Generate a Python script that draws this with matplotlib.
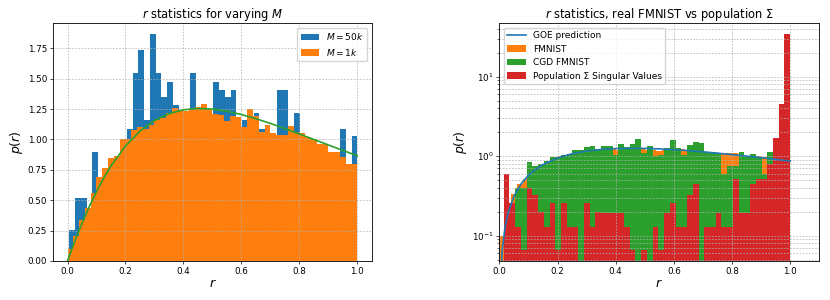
import matplotlib
matplotlib.use("Agg")
import matplotlib.pyplot as plt
import numpy as np

# ---- data ----
# left panel: 50-bin densities
m50k_range = (0.006, 1.0)
m50k = [0.253, 0.515, 0.515, 0.40, 0.900, 0.58, 0.66, 0.72, 0.78, 0.88,
        1.090, 1.545, 1.737, 1.160, 1.864, 1.545, 1.350, 1.476, 1.283, 1.12,
        1.10, 1.545, 1.12, 1.15, 1.10, 1.476, 1.410, 1.350, 1.410, 1.10,
        1.157, 1.10, 1.218, 1.088, 0.98, 0.94, 1.410, 1.410, 0.98, 1.218,
        0.94, 0.90, 0.88, 0.85, 0.82, 0.78, 0.78, 1.088, 0.72, 1.025]

m1k_range = (0.0, 1.0)
m1k = [0.097, 0.207, 0.336, 0.438, 0.556, 0.694, 0.769, 0.846, 0.862, 1.005,
       1.005, 1.080, 1.100, 1.090, 1.120, 1.160, 1.180, 1.220, 1.260, 1.245,
       1.230, 1.250, 1.270, 1.295, 1.250, 1.210, 1.200, 1.150, 1.190, 1.185,
       1.100, 1.250, 1.190, 1.065, 1.120, 1.050, 1.040, 1.040, 1.110, 1.060,
       1.055, 1.020, 1.005, 0.965, 0.965, 0.900, 0.900, 0.855, 0.800, 0.800]

# right panel
fmnist_range = (0.0, 1.0)
fmnist = [0.10, 0.22, 0.336, 0.45, 0.52, 0.62, 0.72, 0.75, 0.80, 0.95,
          1.00, 0.97, 1.05, 1.10, 1.12, 1.15, 1.15, 1.20, 1.20, 1.26,
          1.20, 1.25, 1.25, 1.20, 1.23, 1.20, 1.20, 1.15, 1.20, 1.20,
          1.20, 1.23, 1.20, 1.15, 1.15, 1.10, 1.10, 1.05, 1.09, 1.09,
          1.09, 1.05, 1.00, 0.95, 1.00, 0.97, 0.97, 0.90, 0.90, 0.87]

cgd_range = (0.015, 1.0)
cgd_fmnist = [0.25, 0.20, 0.40, 0.40, 0.84, 0.76, 0.80, 0.88, 0.97, 0.97,
              1.02, 1.07, 1.18, 1.18, 1.30, 1.34, 1.24, 1.34, 1.34, 1.04,
              1.40, 1.30, 1.40, 1.65, 1.10, 1.34, 1.00, 1.04, 1.27, 1.60,
              1.27, 1.04, 1.36, 1.50, 1.47, 1.14, 1.14, 1.07, 0.60, 0.75,
              0.75, 1.14, 1.00, 1.07, 0.97, 0.59, 1.14, 1.00, 0.90, 0.85]

pop_range = (0.015, 1.0)
pop_sigma = [0.589, 0.257, 0.128, 0.066, 0.40, 0.32, 0.198, 0.128, 0.257, 0.066,
             0.257, 0.128, 0.128, 0.0, 0.257, 0.128, 0.198, 0.19, 0.19, 0.19,
             0.19, 0.128, 0.066, 0.0, 0.066, 0.0, 0.128, 0.066, 0.19, 0.257,
             0.128, 0.128, 0.32, 0.45, 0.0, 0.128, 0.128, 0.19, 0.128, 0.128,
             0.52, 0.19, 0.19, 0.45, 0.52, 0.52, 0.785, 1.70, 4.50, 34.0]

# GOE prediction curve
goe_r = [0, 0.005, 0.01, 0.02, 0.03, 0.05, 0.075, 0.1, 0.125, 0.15, 0.2, 0.25,
         0.3, 0.35, 0.4, 0.45, 0.5, 0.55, 0.6, 0.65, 0.7, 0.75, 0.8, 0.85,
         0.9, 0.95, 1.0]
goe_p = [0, 0.034, 0.066, 0.131, 0.193, 0.312, 0.448, 0.572, 0.683, 0.782,
         0.946, 1.069, 1.156, 1.212, 1.244, 1.255, 1.250, 1.232, 1.205, 1.171,
         1.132, 1.089, 1.045, 1.000, 0.955, 0.910, 0.866]


def draw_hist(ax, heights, rng, **kw):
    edges = np.linspace(rng[0], rng[1], len(heights) + 1)
    centers = 0.5 * (edges[:-1] + edges[1:])
    ax.hist(centers, bins=edges, weights=heights, **kw)


plt.rcParams.update(
    {
        "font.size": 6.3,
        "axes.linewidth": 0.6,
        "xtick.major.size": 2.2,
        "ytick.major.size": 2.2,
        "ytick.minor.size": 1.3,
        "xtick.major.width": 0.5,
        "ytick.major.width": 0.5,
        "ytick.minor.width": 0.4,
        "xtick.major.pad": 2,
        "ytick.major.pad": 2,
        "legend.fontsize": 6.5,
    }
)
grid_kw = dict(linestyle=(0, (2.5, 2)), linewidth=0.5, color="#b0b0b0")

fig = plt.figure(figsize=(8.3, 3.0), dpi=100)
ax1 = fig.add_axes([0.0639, 0.13, 0.384, 0.793])
ax2 = fig.add_axes([0.6016, 0.13, 0.3855, 0.793])

# left
draw_hist(ax1, m50k, m50k_range, color="C0", label=r"$M = 50k$")
draw_hist(ax1, m1k, m1k_range, color="C1", label=r"$M = 1k$")
ax1.plot(goe_r, goe_p, color="C2", lw=1.2)
ax1.grid(True, **grid_kw)
ax1.legend(loc="upper right")
ax1.set_title(r"$r$ statistics for varying $M$", fontsize=8.3, pad=4)
ax1.set_xlabel(r"$r$", fontsize=9, labelpad=1)
ax1.set_ylabel(r"$p(r)$", fontsize=9, labelpad=2)
ax1.set_yticks([0, 0.25, 0.5, 0.75, 1.0, 1.25, 1.5, 1.75])

# right
ax2.set_yscale("log")
ax2.plot(goe_r, goe_p, color="C0", lw=1.2, zorder=3, label="GOE prediction")
draw_hist(ax2, fmnist, fmnist_range, color="C1", label="FMNIST")
draw_hist(ax2, cgd_fmnist, cgd_range, color="C2", label="CGD FMNIST")
draw_hist(ax2, pop_sigma, pop_range, color="C3", label="Population Σ Singular Values")
ax2.set_xlim(0, 1.1)
ax2.set_ylim(0.048, 47)
ax2.grid(True, which="both", **grid_kw)
ax2.legend(loc="upper left")
ax2.set_title(r"$r$ statistics, real FMNIST vs population Σ", fontsize=8.3, pad=4)
ax2.set_xlabel(r"$r$", fontsize=9, labelpad=1)
ax2.set_ylabel(r"$p(r)$", fontsize=9, labelpad=2)

fig.savefig("out.png", dpi=100)
